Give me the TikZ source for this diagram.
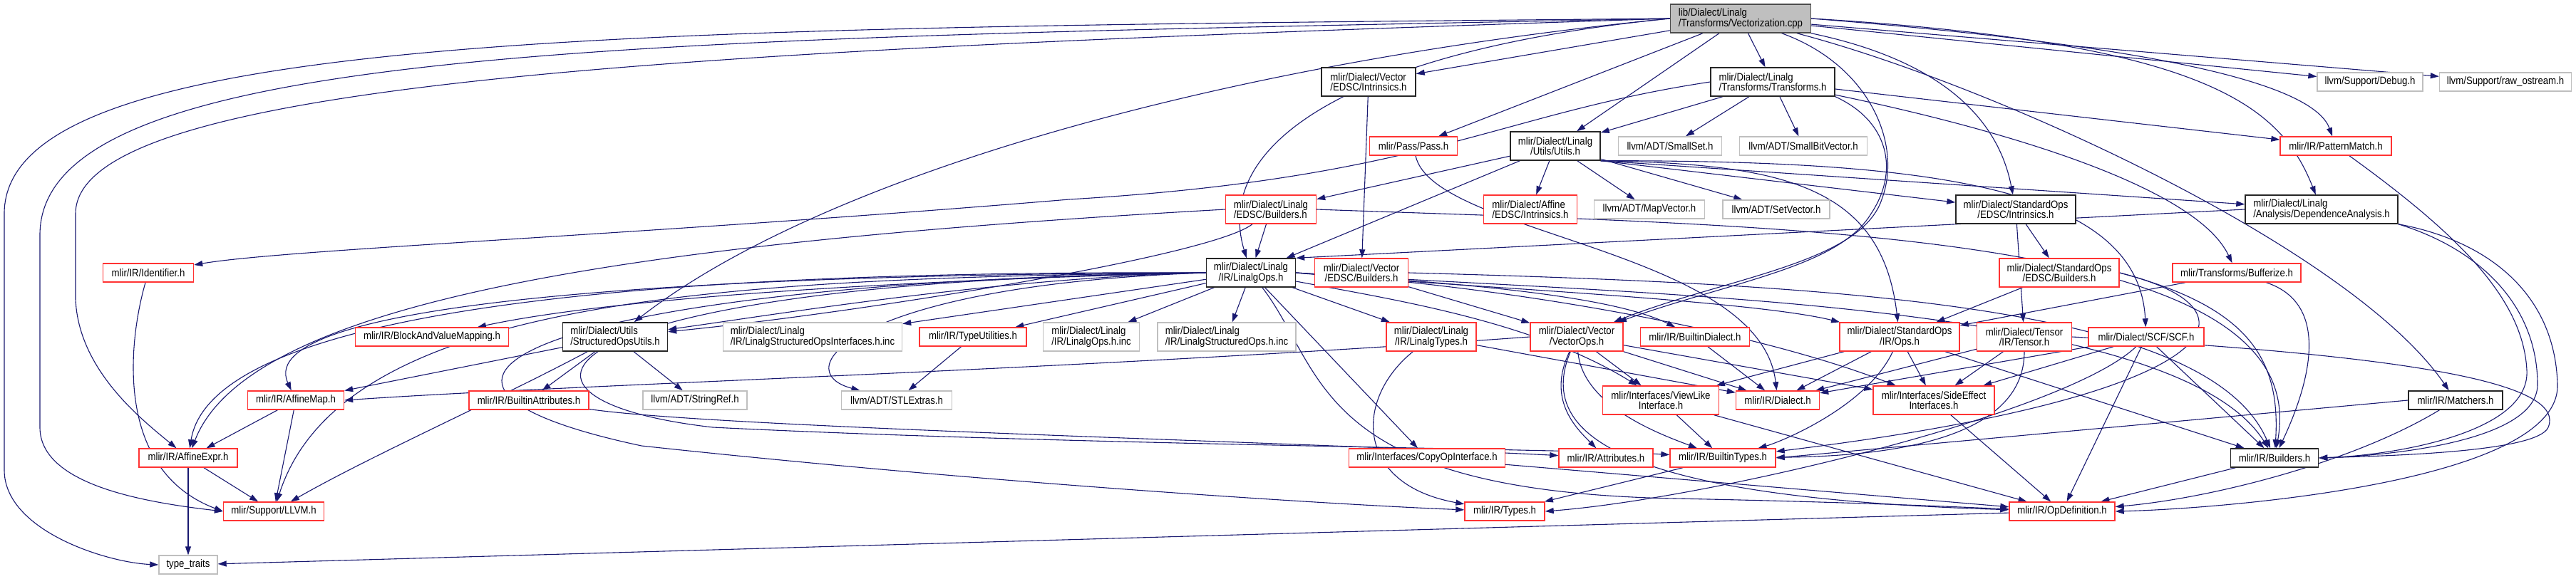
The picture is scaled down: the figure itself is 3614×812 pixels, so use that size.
\documentclass[tikz,border=0pt]{standalone}
\usepackage{fontspec}
\setmainfont{Liberation Sans}[FakeStretch=0.88]
\usepackage{tikz}
\usepackage{xcolor}
\usetikzlibrary{arrows.meta,backgrounds}
\definecolor{edgeblue}{HTML}{191970}
\definecolor{boxred}{HTML}{FF3333}
\definecolor{boxgray}{HTML}{BFBFBF}
\tikzset{
  hdr/.style    ={rectangle, line width=1.4pt, fill=white, inner xsep=3pt, inner ysep=2pt,
                  minimum height=26pt, align=center, font=\fontsize{15}{14.7}\selectfont},
  redbox/.style ={hdr, draw=boxred},
  blkbox/.style ={hdr, draw=black!85},
  grybox/.style ={hdr, draw=boxgray},
  topbox/.style ={hdr, draw=black!70, fill=boxgray},
  twoline/.style={minimum height=40pt},
  lft/.style    ={align=left},
  dep/.style    ={-{Triangle[length=12pt,width=8pt]}, line width=1.1pt, draw=edgeblue},
}
\begin{document}
\begin{tikzpicture}[x=1pt,y=-1pt]
\useasboundingbox (0,0) rectangle (3614,812);

\node[topbox, twoline, lft, minimum width=197pt] (vec) at (2442,26) {lib/Dialect/Linalg\\/Transforms/Vectorization.cpp};

\node[blkbox, twoline, lft, minimum width=132pt] (vedscI) at (1920,115) {mlir/Dialect/Vector\\/EDSC/Intrinsics.h};
\node[blkbox, twoline, lft, minimum width=174pt] (xforms) at (2487,115) {mlir/Dialect/Linalg\\/Transforms/Transforms.h};
\node[grybox, minimum width=148pt] (debug) at (3325,115) {llvm/Support/Debug.h};
\node[grybox, minimum width=185pt] (rawos) at (3515,115) {llvm/Support/raw\_ostream.h};

\node[redbox, minimum width=123pt] (pass) at (1983,205) {mlir/Pass/Pass.h};
\node[blkbox, twoline, minimum width=126pt] (utils) at (2182,205) {mlir/Dialect/Linalg\\/Utils/Utils.h};
\node[grybox, minimum width=145pt] (smallset) at (2343,205) {llvm/ADT/SmallSet.h};
\node[grybox, minimum width=179pt] (smallbv) at (2530,205) {llvm/ADT/SmallBitVector.h};
\node[redbox, minimum width=156pt] (pattern) at (3277,205) {mlir/IR/PatternMatch.h};

\node[redbox, twoline, lft, minimum width=127pt] (ledscB) at (1783,294) {mlir/Dialect/Linalg\\/EDSC/Builders.h};
\node[redbox, twoline, lft, minimum width=131pt] (aedscI) at (2147,294) {mlir/Dialect/Affine\\/EDSC/Intrinsics.h};
\node[grybox, minimum width=155pt] (mapvec) at (2314,294) {llvm/ADT/MapVector.h};
\node[grybox, minimum width=150pt] (setvec) at (2492,294) {llvm/ADT/SetVector.h};
\node[blkbox, twoline, minimum width=168pt] (sedscI) at (2828,294) {mlir/Dialect/StandardOps\\/EDSC/Intrinsics.h};
\node[blkbox, twoline, lft, minimum width=214pt] (depana) at (3257,294) {mlir/Dialect/Linalg\\/Analysis/DependenceAnalysis.h};

\node[redbox, minimum width=127pt] (ident) at (208,383) {mlir/IR/Identifier.h};
\node[blkbox, twoline, minimum width=125pt] (linops) at (1755,383) {mlir/Dialect/Linalg\\/IR/LinalgOps.h};
\node[redbox, twoline, minimum width=131pt] (vedscB) at (1910,383) {mlir/Dialect/Vector\\/EDSC/Builders.h};
\node[redbox, twoline, minimum width=168pt] (sedscB) at (2889,383) {mlir/Dialect/StandardOps\\/EDSC/Builders.h};
\node[redbox, minimum width=180pt] (buffer) at (3138,383) {mlir/Transforms/Bufferize.h};

\node[redbox, minimum width=215pt] (bvm) at (606,473) {mlir/IR/BlockAndValueMapping.h};
\node[blkbox, twoline, lft, minimum width=147pt] (sou) at (863,473) {mlir/Dialect/Utils\\/StructuredOpsUtils.h};
\node[grybox, twoline, lft, minimum width=251pt] (lsoii) at (1140,473) {mlir/Dialect/Linalg\\/IR/LinalgStructuredOpsInterfaces.h.inc};
\node[redbox, minimum width=150pt] (typeutil) at (1365,473) {mlir/IR/TypeUtilities.h};
\node[grybox, twoline, lft, minimum width=135pt] (linopsinc) at (1531,473) {mlir/Dialect/Linalg\\/IR/LinalgOps.h.inc};
\node[grybox, twoline, lft, minimum width=194pt] (lsoinc) at (1721,473) {mlir/Dialect/Linalg\\/IR/LinalgStructuredOps.h.inc};
\node[redbox, twoline, minimum width=126pt] (lintypes) at (2008,473) {mlir/Dialect/Linalg\\/IR/LinalgTypes.h};
\node[redbox, twoline, minimum width=130pt] (vecops) at (2212,473) {mlir/Dialect/Vector\\/VectorOps.h};
\node[redbox, minimum width=153pt] (bdialect) at (2378,473) {mlir/IR/BuiltinDialect.h};
\node[redbox, twoline, minimum width=168pt] (stdops) at (2665,473) {mlir/Dialect/StandardOps\\/IR/Ops.h};
\node[redbox, twoline, minimum width=133pt] (tensor) at (2840,473) {mlir/Dialect/Tensor\\/IR/Tensor.h};
\node[redbox, minimum width=162pt] (scf) at (3011,473) {mlir/Dialect/SCF/SCF.h};

\node[redbox, minimum width=135pt] (amap) at (415,562) {mlir/IR/AffineMap.h};
\node[redbox, minimum width=168pt] (battr) at (742,562) {mlir/IR/BuiltinAttributes.h};
\node[grybox, minimum width=146pt] (strref) at (975,562) {llvm/ADT/StringRef.h};
\node[grybox, minimum width=155pt] (stlx) at (1258,562) {llvm/ADT/STLExtras.h};
\node[redbox, twoline, minimum width=163pt] (viewlike) at (2330,562) {mlir/Interfaces/ViewLike\\Interface.h};
\node[redbox, minimum width=117pt] (dialect) at (2494,562) {mlir/IR/Dialect.h};
\node[redbox, twoline, minimum width=170pt] (sideeff) at (2713,562) {mlir/Interfaces/SideEffect\\Interfaces.h};
\node[blkbox, minimum width=132pt] (matchers) at (3445,562) {mlir/IR/Matchers.h};

\node[redbox, minimum width=138pt] (aexpr) at (264,643) {mlir/IR/AffineExpr.h};
\node[redbox, minimum width=219pt] (copyop) at (2002,643) {mlir/Interfaces/CopyOpInterface.h};
\node[redbox, minimum width=132pt] (attrs) at (2253,643) {mlir/IR/Attributes.h};
\node[redbox, minimum width=148pt] (btypes) at (2417,643) {mlir/IR/BuiltinTypes.h};
\node[blkbox, minimum width=123pt] (builders) at (3191,643) {mlir/IR/Builders.h};

\node[redbox, minimum width=141pt] (llvmh) at (384,718) {mlir/Support/LLVM.h};
\node[redbox, minimum width=112pt] (types) at (2111,718) {mlir/IR/Types.h};
\node[redbox, minimum width=148pt] (opdef) at (2893,718) {mlir/IR/OpDefinition.h};

\node[grybox, minimum width=82pt] (traits) at (264,793) {type\_traits};

\begin{scope}[on background layer]
\draw[dep] (vec.west) .. controls (900,40) and (6,40) .. (6,300) -- (6,660) .. controls (6,745) and (150,790) .. (traits.west);
\draw[dep] (vec.west) .. controls (900,55) and (56,60) .. (56,330) -- (56,600) .. controls (56,680) and (200,705) .. (llvmh.west);
\draw[dep] (vec.west) .. controls (1000,70) and (106,110) .. (106,300) -- (106,420) .. controls (110,520) and (200,590) .. (aexpr);
\draw[dep] (vec.west) .. controls (1700,90) and (1150,250) .. (sou);
\draw[dep] (vec.west) .. controls (1900,70) and (1700,200) .. (linops);
\draw[dep] (vec) -- (vedscI);
\draw[dep] (vec) -- (pass);
\draw[dep] (vec) -- (utils);
\draw[dep] (vec) -- (xforms);
\draw[dep] (vec) .. controls (2620,90) and (2670,200) .. (2640,280) .. controls (2610,370) and (2420,390) .. (vecops);
\draw[dep] (vec.east) .. controls (3100,60) and (3200,150) .. (depana);
\draw[dep] (vec.east) .. controls (3100,70) and (3250,130) .. (pattern);
\draw[dep] (vec) -- (debug);
\draw[dep] (vec) -- (rawos);
\draw[dep] (vec) .. controls (2800,120) and (3300,350) .. (matchers);
\draw[dep] (vec) .. controls (2700,80) and (2800,150) .. (sedscI);

\draw[dep] (xforms) -- (utils);
\draw[dep] (xforms) -- (smallset);
\draw[dep] (xforms) -- (smallbv);
\draw[dep] (xforms.west) .. controls (2100,160) and (2000,250) .. (1500,280) .. controls (900,330) and (400,350) .. (ident);
\draw[dep] (xforms) -- (pattern);
\draw[dep] (xforms) .. controls (2800,180) and (3080,260) .. (buffer);
\draw[dep] (xforms.south east) .. controls (2650,170) and (2665,240) .. (2625,300) .. controls (2580,375) and (2430,395) .. (vecops);

\draw[dep] (vedscI) -- (vedscB);
\draw[dep] (pass) .. controls (2010,330) and (2470,350) .. (dialect);

\draw[dep] (utils) -- (ledscB);
\draw[dep] (utils) -- (linops);
\draw[dep] (utils) -- (aedscI);
\draw[dep] (utils) -- (mapvec);
\draw[dep] (utils) -- (setvec);
\draw[dep] (utils.south east) -- (depana);
\draw[dep] (utils.south east) -- (sedscI);
\draw[dep] (utils.south east) .. controls (2700,225) and (3000,260) .. (scf);
\draw[dep] (utils.south east) .. controls (2500,230) and (2640,260) .. (stdops);

\draw[dep] (ledscB) -- (linops);
\draw[dep] (ledscB) .. controls (1700,360) and (1200,440) .. (sou);
\draw[dep] (ledscB.west) .. controls (900,340) and (350,420) .. (aexpr);
\draw[dep] (ledscB.east) .. controls (2500,318) and (3250,320) .. (builders);

\draw[dep] (sedscI) -- (sedscB);
\draw[dep] (sedscI) -- (tensor);
\draw[dep] (sedscB) -- (stdops);
\draw[dep] (sedscB.east) .. controls (3150,430) and (3200,500) .. (builders);
\draw[dep] (sedscB.east) .. controls (3200,440) and (3100,560) .. (btypes);

\draw[dep] (depana.west) -- (linops.north east);
\draw[dep] (depana.south east) .. controls (3480,350) and (3560,430) .. (3560,540) .. controls (3560,620) and (3350,640) .. (builders.east);
\draw[dep] (depana.south east) .. controls (3500,340) and (3585,420) .. (3588,540) .. controls (3592,680) and (3100,715) .. (opdef.east);
\draw[dep] (pattern) .. controls (3450,330) and (3540,420) .. (3545,520) .. controls (3550,610) and (3350,640) .. (builders.east);
\draw[dep] (matchers.west) -- (btypes.east);
\draw[dep] (matchers) .. controls (3300,650) and (3100,700) .. (opdef);
\draw[dep] (buffer) -- (stdops);
\draw[dep] (buffer) .. controls (3280,430) and (3230,560) .. (builders);

\draw[dep] (linops.west) .. controls (1400,390) and (1100,440) .. (sou);
\draw[dep] (linops.west) .. controls (1400,390) and (900,410) .. (bvm);
\draw[dep] (linops) -- (lsoii);
\draw[dep] (linops) -- (typeutil);
\draw[dep] (linops) -- (linopsinc);
\draw[dep] (linops) -- (lsoinc);
\draw[dep] (linops.west) .. controls (1000,380) and (300,420) .. (aexpr);
\draw[dep] (linops.west) .. controls (1000,385) and (350,420) .. (amap);
\draw[dep] (linops.west) .. controls (1000,390) and (480,420) .. (llvmh);
\draw[dep] (linops.west) .. controls (1200,400) and (1100,520) .. (stlx);
\draw[dep] (linops.west) .. controls (800,395) and (450,530) .. (900,626) .. controls (1400,680) and (1900,710) .. (types);
\draw[dep] (linops.west) .. controls (750,395) and (650,560) .. (1000,600) .. controls (1500,625) and (2200,630) .. (btypes);
\draw[dep] (linops) -- (lintypes);
\draw[dep] (linops.east) .. controls (2000,400) and (2450,420) .. (stdops);
\draw[dep] (linops.east) .. controls (2000,395) and (2250,410) .. (bdialect);
\draw[dep] (linops) .. controls (1950,420) and (2150,450) .. (viewlike);
\draw[dep] (linops.east) .. controls (2100,400) and (2450,460) .. (sideeff);
\draw[dep] (linops) -- (copyop);
\draw[dep] (linops.east) .. controls (2300,415) and (3050,420) .. (builders);
\draw[dep] (linops) .. controls (1860,520) and (1840,690) .. (2350,700) .. controls (2600,705) and (2750,712) .. (opdef);

\draw[dep] (vedscB) -- (vecops);
\draw[dep] (vedscB.east) .. controls (2600,400) and (3100,430) .. (builders);

\draw[dep] (sou) -- (amap);
\draw[dep] (sou) .. controls (700,560) and (520,640) .. (llvmh);
\draw[dep] (sou) -- (battr);
\draw[dep] (sou) -- (strref);
\draw[dep] (amap) -- (aexpr);
\draw[dep] (amap) -- (llvmh);
\draw[dep] (aexpr) -- (llvmh);
\draw[dep] (aexpr) -- (traits);
\draw[dep] (ident) .. controls (180,480) and (160,660) .. (llvmh.west);
\draw[dep] (typeutil) -- (stlx);
\draw[dep] (battr) .. controls (1000,600) and (1800,620) .. (attrs);

\draw[dep] (lintypes) .. controls (1900,560) and (1900,680) .. (types);
\draw[dep] (lintypes) -- (dialect);
\draw[dep] (vecops.west) .. controls (1500,520) and (800,540) .. (amap.east);
\draw[dep] (vecops) -- (viewlike);
\draw[dep] (vecops) -- (dialect);
\draw[dep] (vecops) -- (sideeff);
\draw[dep] (vecops) .. controls (2170,560) and (2210,600) .. (attrs);
\draw[dep] (vecops) .. controls (2220,570) and (2330,610) .. (btypes);
\draw[dep] (vecops) .. controls (2150,620) and (2300,700) .. (opdef);
\draw[dep] (bdialect) -- (dialect);

\draw[dep] (stdops) -- (viewlike);
\draw[dep] (stdops) -- (dialect);
\draw[dep] (stdops) .. controls (2620,570) and (2500,620) .. (btypes);
\draw[dep] (stdops) -- (sideeff);
\draw[dep] (stdops) -- (builders);
\draw[dep] (tensor) -- (dialect);
\draw[dep] (tensor) -- (sideeff);
\draw[dep] (tensor) .. controls (2840,600) and (2700,640) .. (btypes);
\draw[dep] (tensor.east) .. controls (3400,500) and (3600,540) .. (3575,600) .. controls (3560,635) and (3350,640) .. (builders.east);
\draw[dep] (scf) -- (dialect);
\draw[dep] (scf) -- (sideeff);
\draw[dep] (scf) .. controls (2900,580) and (2400,700) .. (types.east);
\draw[dep] (scf) -- (opdef);
\draw[dep] (scf) -- (builders);

\draw[dep] (viewlike) -- (btypes);
\draw[dep] (viewlike) -- (opdef);
\draw[dep] (sideeff) -- (opdef);
\draw[dep] (copyop) -- (opdef);
\draw[dep] (btypes) -- (types);
\draw[dep] (builders) -- (opdef);
\draw[dep] (opdef) -- (traits);
\end{scope}
\end{tikzpicture}
\end{document}
